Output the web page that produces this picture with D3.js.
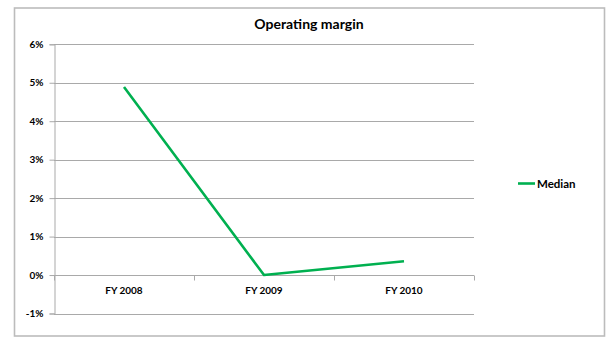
<!DOCTYPE html>
<html>
<head>
<meta charset="utf-8">
<script src="https://cdn.jsdelivr.net/npm/d3@7/dist/d3.min.js"></script>
<style>
  html, body { margin: 0; padding: 0; background: #fff; }
  svg { display: block; }
  text { font-family: Lato, "Open Sans", sans-serif; font-weight: bold; fill: #000; }
</style>
</head>
<body>
<svg id="chart" width="613" height="345"></svg>
<script>
const categories = ["FY 2008", "FY 2009", "FY 2010"];
const seriesName = "Median";
const medianValues = [4.89, 0.0, 0.36];
const yTicks = [-1, 0, 1, 2, 3, 4, 5, 6];
const chartTitle = "Operating margin";

const svg = d3.select("#chart");
const W = 613, H = 345;
const plot = { left: 54, right: 474, top: 44.3, bottom: 313.5 };

// outer chart border
svg.append("rect")
  .attr("x", 14.5).attr("y", 8)
  .attr("width", 590).attr("height", 328)
  .attr("fill", "#fff")
  .attr("stroke", "#bcbcbc")
  .attr("stroke-width", 1.6);

const x = d3.scaleBand().domain(categories).range([plot.left, plot.right]);
const y = d3.scaleLinear().domain([-1, 6]).range([plot.bottom, plot.top]);

// gridlines
svg.append("g").selectAll("line").data(yTicks).join("line")
  .attr("x1", plot.left).attr("x2", plot.right)
  .attr("y1", d => Math.round(y(d)) + 0.5).attr("y2", d => Math.round(y(d)) + 0.5)
  .attr("stroke", "#a9a9a9").attr("stroke-width", 1);

// y axis
const yAxis = svg.append("g")
  .attr("transform", `translate(${plot.left + 0.5},0)`)
  .call(d3.axisLeft(y).tickValues(yTicks).tickFormat(d => d + "%").tickSize(5).tickPadding(6));
yAxis.select(".domain").attr("stroke", "#a9a9a9");
yAxis.selectAll(".tick line").attr("stroke", "#a9a9a9");
yAxis.selectAll(".tick text").style("font-size", "10px").style("font-family", "Lato").style("font-weight", "bold").attr("fill", "#000");

// x axis at 0%
const y0 = Math.round(y(0)) + 0.5;
const xAxisG = svg.append("g").attr("transform", `translate(0,${y0})`);
xAxisG.append("line")
  .attr("x1", plot.left).attr("x2", plot.right)
  .attr("stroke", "#a9a9a9");
const boundaries = categories.map(c => x(c)).concat([plot.right]);
xAxisG.selectAll("line.tk").data(boundaries).join("line")
  .attr("class", "tk")
  .attr("x1", d => Math.round(d) + 0.5).attr("x2", d => Math.round(d) + 0.5)
  .attr("y1", 0).attr("y2", 5)
  .attr("stroke", "#a9a9a9");
xAxisG.selectAll("text").data(categories).join("text")
  .attr("x", d => x(d) + x.bandwidth() / 2)
  .attr("y", 18.5)
  .attr("text-anchor", "middle")
  .style("font-size", "10px")
  .text(d => d);

// line
const line = d3.line()
  .x((d, i) => x(categories[i]) + x.bandwidth() / 2)
  .y(d => y(d));
svg.append("path")
  .datum(medianValues)
  .attr("d", line)
  .attr("fill", "none")
  .attr("stroke", "#00b050")
  .attr("stroke-width", 2.6)
  .attr("stroke-linejoin", "round");

// title
svg.append("text")
  .attr("x", 309).attr("y", 29)
  .attr("text-anchor", "middle")
  .style("font-size", "14px")
  .text(chartTitle);

// legend
const leg = svg.append("g").attr("transform", "translate(518,183.5)");
leg.append("line").attr("x1", 0).attr("x2", 17).attr("y1", 0).attr("y2", 0)
  .attr("stroke", "#00b050").attr("stroke-width", 2.6);
leg.append("text").attr("x", 19).attr("y", 4).style("font-size", "11.5px").text(seriesName);
</script>
</body>
</html>
